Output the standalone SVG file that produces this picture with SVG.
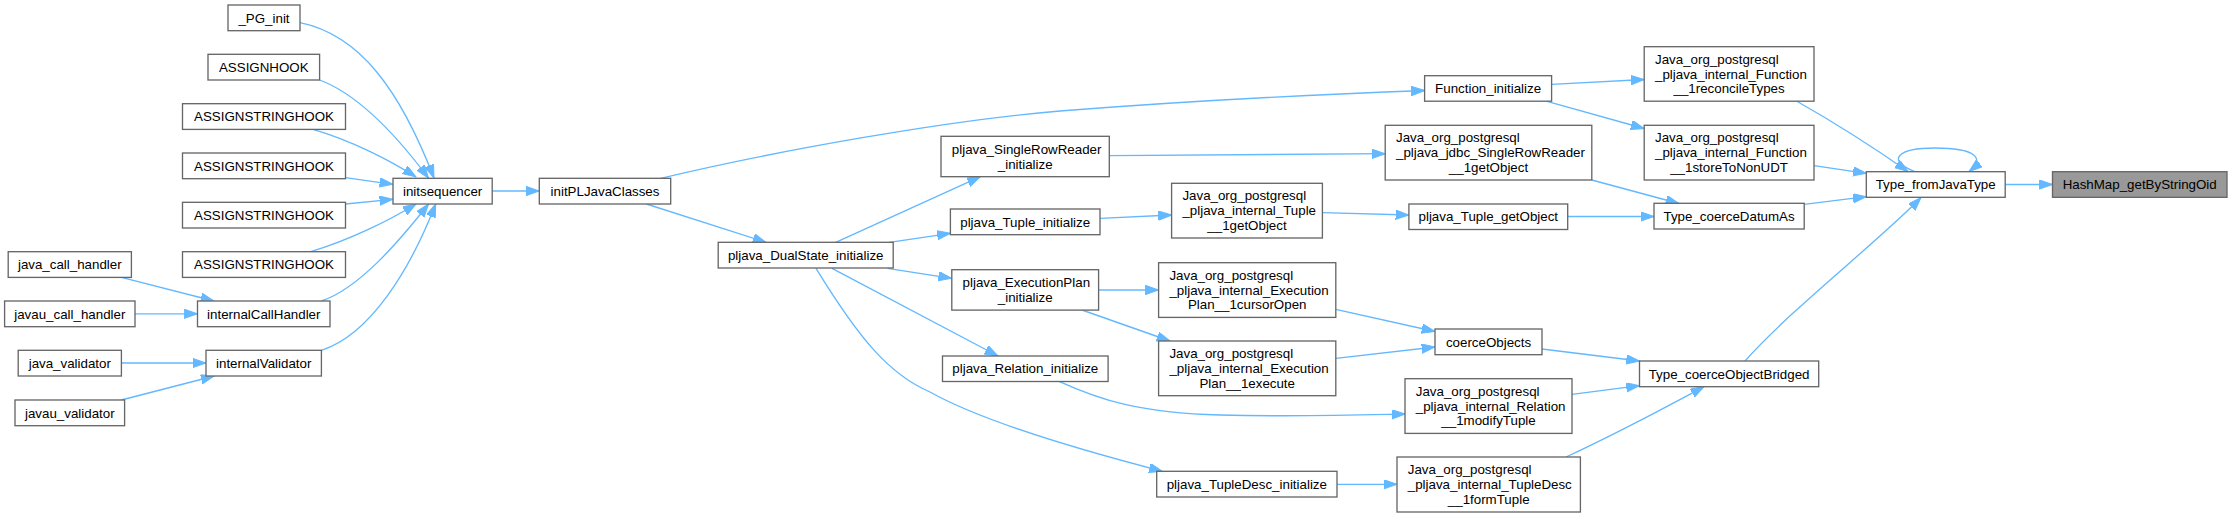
<svg xmlns="http://www.w3.org/2000/svg" width="2232" height="517" viewBox="0 0 2232 517">
<style>
.n rect{fill:#fff;stroke:#666;stroke-width:1.33}
.h rect{fill:#999;stroke:#666;stroke-width:1.33}
text{font-family:"Liberation Sans",Arial,sans-serif;font-size:13.33px;fill:#000}
.c{text-anchor:middle}
.l{text-anchor:start}
.e path{fill:none;stroke:#63b8ff;stroke-width:1.33;marker-end:url(#ah)}
</style>
<defs>
<marker id="ah" markerUnits="userSpaceOnUse" markerWidth="14" markerHeight="10" refX="13.3" refY="4.67" orient="auto">
<path d="M0,0 L13.3,4.67 L0,9.33 z" fill="#63b8ff" stroke="#63b8ff" stroke-width="1"/>
</marker>
</defs>
<rect width="2232" height="517" fill="#fff"/>
<g class="e" id="edges">
<path d="M2005.2,184.5 L2052.5,184.5"/>
<path d="M1915,171.7 C1885,160 1898,148 1935,148 C1975,148 1986,158 1969,171.5"/>
<path d="M1796.4,101 C1830,120 1870,145 1908,171.5"/>
<path d="M1814,165.7 L1866.3,173.3"/>
<path d="M1804.2,204.3 L1866.3,196.7"/>
<path d="M1745,361 C1790,310 1880,240 1921,197.5"/>
<path d="M1551.6,84.3 L1644.2,79.5"/>
<path d="M1547,101.3 L1644.2,128.5"/>
<path d="M1591.8,180 L1679,203.5"/>
<path d="M1567.7,216.5 L1654,216.5"/>
<path d="M1542,349 L1639.5,361"/>
<path d="M1572,394.3 L1639.5,385.7"/>
<path d="M1566,457 C1620,432 1670,405 1704,386.7"/>
<path d="M1335.8,309.3 L1435,331.5"/>
<path d="M1335.8,358.3 L1435,347"/>
<path d="M1322.4,212.7 L1408.9,215"/>
<path d="M1100,218.3 L1171.6,215"/>
<path d="M1109.3,155.7 L1385.2,153.7"/>
<path d="M660.7,178.3 C780,150 950,120 1060,111 C1200,100 1330,94 1424.6,90.5"/>
<path d="M646.4,204 L766,242.3"/>
<path d="M835.7,242.3 L980.4,176.7"/>
<path d="M889.3,242.3 L950.4,233.3"/>
<path d="M887.5,268.3 L951.8,278.3"/>
<path d="M832,268.3 L998,356"/>
<path d="M816,268.3 C860,340 890,375 930,392 C980,420 1080,450 1162.4,471.3"/>
<path d="M1098.6,290 L1158.6,290"/>
<path d="M1082,310 L1170,341"/>
<path d="M1059,381.3 C1100,400 1140,413 1220,415 C1300,417 1360,415 1405,414"/>
<path d="M1337,484.3 L1397,484.3"/>
<path d="M492,191 L539.3,191"/>
<path d="M300,22.7 C360,35 400,90 434,178"/>
<path d="M319.6,80 C360,95 400,140 428.6,178.3"/>
<path d="M313,129.3 C350,140 390,160 416,177"/>
<path d="M345.4,177.7 L392.9,184.3"/>
<path d="M345.4,204 L392.9,199.3"/>
<path d="M310.7,251.7 C350,240 390,220 416,204"/>
<path d="M321.4,301 C360,288 400,240 428.6,204"/>
<path d="M321.4,350.3 C370,335 410,270 435.7,204"/>
<path d="M121.4,277.3 L214,301"/>
<path d="M135,313.8 L197.5,313.8"/>
<path d="M121.4,363 L206,363"/>
<path d="M121.4,400 L214.3,376"/>
</g>
<g id="PG_init" class="n"><rect x="228" y="5" width="72" height="25.7"/><text class="c" x="264" y="22.5">_PG_init</text></g>
<g id="ASSIGNHOOK" class="n"><rect x="208" y="54.3" width="111.6" height="25.7"/><text class="c" x="263.8" y="71.8">ASSIGNHOOK</text></g>
<g id="ASH1" class="n"><rect x="182.5" y="103.7" width="163" height="25.7"/><text class="c" x="264" y="121.2">ASSIGNSTRINGHOOK</text></g>
<g id="ASH2" class="n"><rect x="182.5" y="153" width="163" height="25.7"/><text class="c" x="264" y="170.5">ASSIGNSTRINGHOOK</text></g>
<g id="ASH3" class="n"><rect x="182.5" y="202.3" width="163" height="25.7"/><text class="c" x="264" y="219.8">ASSIGNSTRINGHOOK</text></g>
<g id="ASH4" class="n"><rect x="182.5" y="251.7" width="163" height="25.7"/><text class="c" x="264" y="269.2">ASSIGNSTRINGHOOK</text></g>
<g id="java_call_handler" class="n"><rect x="8.2" y="251.7" width="123.2" height="25.7"/><text class="c" x="69.8" y="269.2">java_call_handler</text></g>
<g id="javau_call_handler" class="n"><rect x="4.6" y="301" width="130.4" height="25.7"/><text class="c" x="69.8" y="318.5">javau_call_handler</text></g>
<g id="internalCallHandler" class="n"><rect x="197.5" y="301" width="132.5" height="25.7"/><text class="c" x="263.8" y="318.5">internalCallHandler</text></g>
<g id="java_validator" class="n"><rect x="18.2" y="350.3" width="103.2" height="25.7"/><text class="c" x="69.8" y="367.8">java_validator</text></g>
<g id="internalValidator" class="n"><rect x="206" y="350.3" width="115.4" height="25.7"/><text class="c" x="263.7" y="367.8">internalValidator</text></g>
<g id="javau_validator" class="n"><rect x="15" y="400" width="109.6" height="25.7"/><text class="c" x="69.8" y="417.5">javau_validator</text></g>
<g id="initsequencer" class="n"><rect x="393" y="178.3" width="99.2" height="25.7"/><text class="c" x="442.6" y="195.8">initsequencer</text></g>
<g id="initPLJavaClasses" class="n"><rect x="539.3" y="178.3" width="131.4" height="25.7"/><text class="c" x="605" y="195.8">initPLJavaClasses</text></g>
<g id="DualState_initialize" class="n"><rect x="718.2" y="242.3" width="175" height="25.7"/><text class="c" x="805.7" y="259.8">pljava_DualState_initialize</text></g>
<g id="SingleRowReader_initialize" class="n"><rect x="941" y="136.3" width="168.3" height="40.4"/><text class="l" x="951.8" y="153.8">pljava_SingleRowReader</text><text class="c" x="1025.2" y="168.5">_initialize</text></g>
<g id="Tuple_initialize" class="n"><rect x="950.4" y="209" width="149.6" height="25.7"/><text class="c" x="1025.2" y="226.5">pljava_Tuple_initialize</text></g>
<g id="ExecutionPlan_initialize" class="n"><rect x="951.8" y="269.7" width="146.8" height="40.4"/><text class="l" x="962.6" y="287.2">pljava_ExecutionPlan</text><text class="c" x="1025.2" y="301.9">_initialize</text></g>
<g id="Relation_initialize" class="n"><rect x="942.5" y="356" width="165.6" height="25.5"/><text class="c" x="1025.3" y="373.4">pljava_Relation_initialize</text></g>
<g id="TupleDesc_initialize" class="n"><rect x="1156.7" y="471.3" width="180.3" height="25.7"/><text class="c" x="1246.8" y="488.8">pljava_TupleDesc_initialize</text></g>
<g id="Function_initialize" class="n"><rect x="1424.6" y="75.7" width="127" height="25.5"/><text class="c" x="1488.1" y="93.1">Function_initialize</text></g>
<g id="jdbc_SingleRowReader_getObject" class="n"><rect x="1385.2" y="125.3" width="206.6" height="54.7"/><text class="l" x="1396" y="142.4">Java_org_postgresql</text><text class="l" x="1396" y="157.1">_pljava_jdbc_SingleRowReader</text><text class="c" x="1488.5" y="171.8">__1getObject</text></g>
<g id="internal_Tuple_getObject" class="n"><rect x="1171.6" y="183.3" width="150.8" height="54.7"/><text class="l" x="1182.4" y="200.4">Java_org_postgresql</text><text class="l" x="1182.4" y="215.1">_pljava_internal_Tuple</text><text class="c" x="1247" y="229.8">__1getObject</text></g>
<g id="pljava_Tuple_getObject" class="n"><rect x="1408.9" y="204" width="158.8" height="25.5"/><text class="c" x="1488.3" y="221.4">pljava_Tuple_getObject</text></g>
<g id="ExecutionPlan_cursorOpen" class="n"><rect x="1158.6" y="262.7" width="177.2" height="54.7"/><text class="l" x="1169.4" y="279.8">Java_org_postgresql</text><text class="l" x="1169.4" y="294.5">_pljava_internal_Execution</text><text class="c" x="1247.2" y="309.2">Plan__1cursorOpen</text></g>
<g id="ExecutionPlan_execute" class="n"><rect x="1158.6" y="341" width="177.2" height="54.7"/><text class="l" x="1169.4" y="358.1">Java_org_postgresql</text><text class="l" x="1169.4" y="372.8">_pljava_internal_Execution</text><text class="c" x="1247.2" y="387.5">Plan__1execute</text></g>
<g id="coerceObjects" class="n"><rect x="1435" y="329" width="107" height="25.7"/><text class="c" x="1488.5" y="346.5">coerceObjects</text></g>
<g id="Relation_modifyTuple" class="n"><rect x="1405" y="378.7" width="167" height="54.7"/><text class="l" x="1415.8" y="395.8">Java_org_postgresql</text><text class="l" x="1415.8" y="410.5">_pljava_internal_Relation</text><text class="c" x="1488.5" y="425.2">__1modifyTuple</text></g>
<g id="TupleDesc_formTuple" class="n"><rect x="1397" y="457" width="183.4" height="55"/><text class="l" x="1407.8" y="474.1">Java_org_postgresql</text><text class="l" x="1407.8" y="488.8">_pljava_internal_TupleDesc</text><text class="c" x="1488.7" y="503.5">__1formTuple</text></g>
<g id="Function_reconcileTypes" class="n"><rect x="1644.2" y="46.7" width="169.8" height="54.5"/><text class="l" x="1655" y="63.8">Java_org_postgresql</text><text class="l" x="1655" y="78.5">_pljava_internal_Function</text><text class="c" x="1729.1" y="93.2">__1reconcileTypes</text></g>
<g id="Function_storeToNonUDT" class="n"><rect x="1644.2" y="125.3" width="169.8" height="54.7"/><text class="l" x="1655" y="142.4">Java_org_postgresql</text><text class="l" x="1655" y="157.1">_pljava_internal_Function</text><text class="c" x="1729.1" y="171.8">__1storeToNonUDT</text></g>
<g id="Type_coerceDatumAs" class="n"><rect x="1654" y="203.3" width="150.2" height="25.7"/><text class="c" x="1729.1" y="220.8">Type_coerceDatumAs</text></g>
<g id="Type_coerceObjectBridged" class="n"><rect x="1639.5" y="361" width="179.2" height="25.7"/><text class="c" x="1729.1" y="378.5">Type_coerceObjectBridged</text></g>
<g id="Type_fromJavaType" class="n"><rect x="1866.3" y="171.7" width="138.9" height="25.6"/><text class="c" x="1935.7" y="189.2">Type_fromJavaType</text></g>
<g id="HashMap_getByStringOid" class="h"><rect x="2052.5" y="171.7" width="174.5" height="25.6"/><text class="c" x="2139.7" y="189.2">HashMap_getByStringOid</text></g>
</svg>
